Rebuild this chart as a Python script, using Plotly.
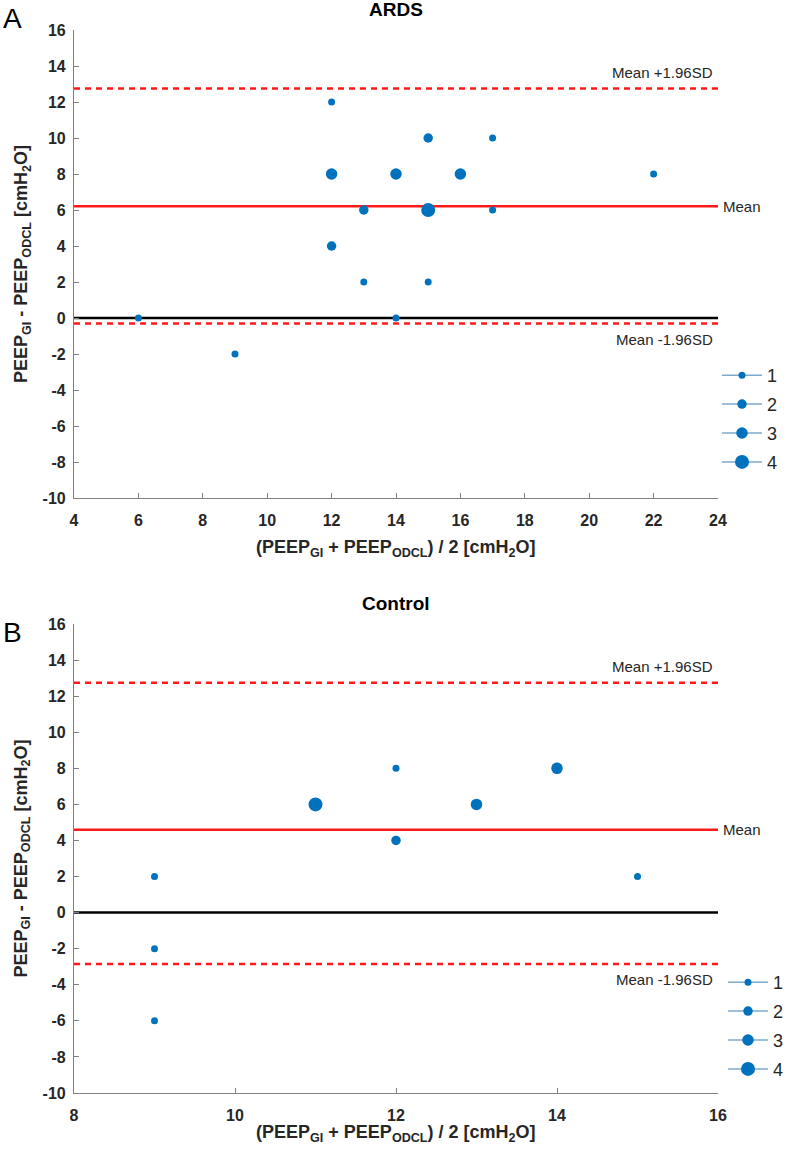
import plotly.graph_objects as go

# ARDS panel: mean of the two PEEPs, difference, number of patients at that point
ards_x = [6, 9, 12, 12, 12, 13, 13, 14, 14, 15, 15, 15, 16, 17, 17, 22]
ards_y = [0, -2, 12, 8, 4, 6, 2, 8, 0, 10, 6, 2, 8, 10, 6, 8]
ards_n = [1, 1, 1, 3, 2, 2, 1, 3, 1, 2, 4, 1, 3, 1, 1, 1]
ards_mean = 6.21
ards_upper = 12.75
ards_lower = -0.31

# Control panel
control_x = [9, 9, 9, 11, 12, 12, 13, 14, 15]
control_y = [2, -2, -6, 6, 8, 4, 6, 8, 2]
control_n = [1, 1, 1, 4, 1, 2, 3, 3, 1]
control_mean = 4.6
control_upper = 12.75
control_lower = -2.85

y_ticks = [-10, -8, -6, -4, -2, 0, 2, 4, 6, 8, 10, 12, 14, 16]
y_ticklabels = [str(v) for v in y_ticks]  # plain hyphen minus, like the original

counts = [1, 2, 3, 4]
marker_size = {1: 7, 2: 9.5, 3: 11.5, 4: 14}

W, H = 786, 1155
L, R, T, B = 74, 68, 30, 62
PW, PH = W - L - R, H - T - B
FONT = "Liberation Sans, Arial, sans-serif"
BLUE = "#0072BD"
RED = "#FF1A1A"
TXT = "#262626"
AX = "#808080"

fig = go.Figure()

# pixel -> paper coordinates (paper = plot area inside margins)
def px_x(p):
    return (p - L) / PW

def px_y(p):
    return (H - B - p) / PH

panels = [
    dict(xa="x", ya="y", xs=ards_x, ys=ards_y, ns=ards_n, mean=ards_mean,
         up=ards_upper, lo=ards_lower, legend="legend"),
    dict(xa="x2", ya="y2", xs=control_x, ys=control_y, ns=control_n, mean=control_mean,
         up=control_upper, lo=control_lower, legend="legend2"),
]

for p in panels:
    for c in counts:
        xs = [x for x, n in zip(p["xs"], p["ns"]) if n == c]
        ys = [y for y, n in zip(p["ys"], p["ns"]) if n == c]
        fig.add_trace(go.Scatter(
            x=xs, y=ys, xaxis=p["xa"], yaxis=p["ya"], mode="markers",
            marker=dict(size=marker_size[c], color=BLUE), showlegend=False,
            hoverinfo="skip"))
        # legend entry (marker on a thin line, as in the original)
        fig.add_trace(go.Scatter(
            x=[None], y=[None], xaxis=p["xa"], yaxis=p["ya"], mode="lines+markers",
            name=str(c), legend=p["legend"], legendgroup=p["legend"] + str(c),
            line=dict(color="#7FAACC", width=1.5),
            marker=dict(size=marker_size[c], color=BLUE)))

    xd = p["xa"] + " domain"
    fig.add_shape(type="line", xref=xd, yref=p["ya"], x0=0, x1=1, y0=0, y1=0,
                  line=dict(color="black", width=2.5), layer="below")
    fig.add_shape(type="line", xref=xd, yref=p["ya"], x0=0, x1=1, y0=p["mean"], y1=p["mean"],
                  line=dict(color=RED, width=2.5), layer="below")
    for v in (p["up"], p["lo"]):
        fig.add_shape(type="line", xref=xd, yref=p["ya"], x0=0, x1=1, y0=v, y1=v,
                      line=dict(color=RED, width=2.5, dash="6px,5px"), layer="below")

    fig.add_annotation(xref=xd, yref=p["ya"], x=0.995, y=p["up"], text="Mean +1.96SD",
                       xanchor="right", yanchor="bottom", yshift=6, showarrow=False,
                       font=dict(size=15, color=TXT))
    fig.add_annotation(xref=xd, yref=p["ya"], x=0.995, y=p["lo"], text="Mean -1.96SD",
                       xanchor="right", yanchor="top", yshift=-5, showarrow=False,
                       font=dict(size=15, color=TXT))
    fig.add_annotation(xref=xd, yref=p["ya"], x=1, y=p["mean"], text="Mean",
                       xanchor="left", yanchor="middle", xshift=3, showarrow=False,
                       font=dict(size=15, color=TXT))

axis_common = dict(showline=True, linecolor=AX, linewidth=1.2, ticks="inside",
                   ticklen=5, tickcolor=AX, showgrid=False, zeroline=False,
                   automargin=False,
                   tickfont=dict(family=FONT, size=16, color=TXT, weight="bold"))
yaxis_common = dict(range=[-10, 16], tickmode="array", tickvals=y_ticks,
                    ticktext=y_ticklabels, ticklabelstandoff=4, **axis_common)

legend_common = dict(xanchor="left", yanchor="top", font=dict(size=18, color=TXT),
                     tracegroupgap=2.5, bgcolor="rgba(0,0,0,0)", itemwidth=40,
                     borderwidth=0)

fig.update_layout(
    width=W, height=H, margin=dict(l=L, r=R, t=T, b=B, autoexpand=False),
    plot_bgcolor="white", paper_bgcolor="white",
    font=dict(family=FONT, color=TXT),
    xaxis=dict(domain=[0, 1], range=[4, 24], dtick=2, anchor="y",
               ticklabelstandoff=8, **axis_common),
    yaxis=dict(domain=[px_y(498), px_y(30)], anchor="x", **yaxis_common),
    xaxis2=dict(domain=[0, 1], range=[8, 16], dtick=2, anchor="y2",
                ticklabelstandoff=8, **axis_common),
    yaxis2=dict(domain=[px_y(1093), px_y(624)], anchor="x2", **yaxis_common),
    legend=dict(x=px_x(717), y=px_y(357), **legend_common),
    legend2=dict(x=px_x(723), y=px_y(964), **legend_common),
)

ytitle = "<b>PEEP<sub>GI</sub> - PEEP<sub>ODCL</sub> [cmH<sub>2</sub>O]</b>"
xtitle = "<b>(PEEP<sub>GI</sub> + PEEP<sub>ODCL</sub>) / 2 [cmH<sub>2</sub>O]</b>"

for top, bottom, title, letter, ly, xt in [(30, 498, "ARDS", "A", 18, 548),
                                          (624, 1093, "Control", "B", 632, 1133)]:
    mid = (top + bottom) / 2
    fig.add_annotation(xref="paper", yref="paper", x=px_x(22), y=px_y(mid), text=ytitle,
                       textangle=-90, xanchor="center", yanchor="middle", showarrow=False,
                       font=dict(size=18, color=TXT))
    fig.add_annotation(xref="paper", yref="paper", x=px_x(396), y=px_y(xt),
                       text=xtitle, xanchor="center", yanchor="middle", showarrow=False,
                       font=dict(size=18, color=TXT))
    fig.add_annotation(xref="paper", yref="paper", x=px_x(396), y=px_y(top - 20),
                       text="<b>" + title + "</b>", xanchor="center", yanchor="middle",
                       showarrow=False, font=dict(size=19, color="black"))
    fig.add_annotation(xref="paper", yref="paper", x=px_x(1), y=px_y(ly), text=letter,
                       xanchor="left", yanchor="middle", showarrow=False,
                       font=dict(size=28, color="black"))

# the page's default body margin would shift the figure by 8px
fig.write_html("out.html", config={"displayModeBar": False},
               post_script="document.body.style.margin='0px';")
